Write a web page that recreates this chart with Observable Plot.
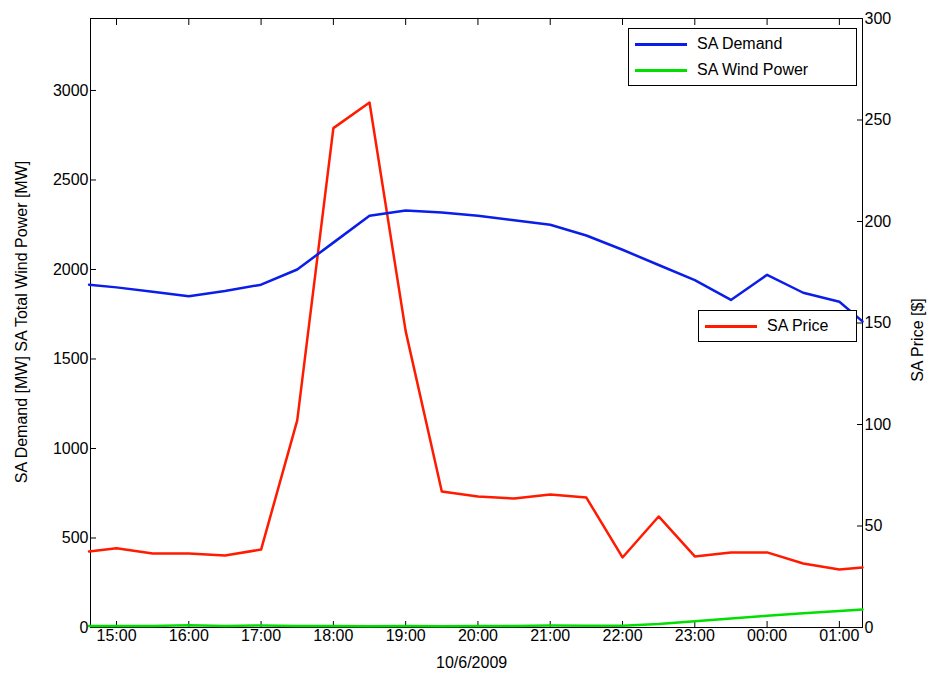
<!DOCTYPE html>
<html><head><meta charset="utf-8">
<script src="https://cdn.jsdelivr.net/npm/d3@7"></script>
<script src="https://cdn.jsdelivr.net/npm/@observablehq/plot@0.6"></script>
<style>
body{margin:0;background:#fff;font-family:"Liberation Sans",Arial,sans-serif;}
#wrap{position:relative;width:930px;height:679px;}
.row{display:flex;align-items:center;height:26px;padding-left:6px;}
.sw{width:52px;height:3px;margin-right:10px;}
</style></head><body>
<div id="wrap"></div>
<script>
const hours = [14.62,15,15.5,16,16.5,17,17.5,18,18.5,19,19.5,20,20.5,21,21.5,22,22.5,23,23.5,24,24.5,25,25.32];
const demand = [1915,1900,1875,1850,1880,1915,2000,2150,2300,2330,2318,2300,2275,2250,2190,2110,2025,1940,1830,1970,1870,1820,1710];
const wind = [8,8,9,12,9,11,9,8,7,8,7,8,9,11,10,10,20,35,50,65,80,92,100];
const price = [37.4,39,36.5,36.5,35.5,38.4,102,246,258.6,146,67,64.5,63.5,65.5,64,34.5,54.7,35,37,37,31.5,28.6,29.6];
const xTicks = [15,16,17,18,19,20,21,22,23,24,25];
const yTicks = [0,500,1000,1500,2000,2500,3000];
const priceTicks = [0,50,100,150,200,250,300];
const yMax = 3402, k = yMax/300;
const d = hours.map((h,i)=>({h,demand:demand[i],wind:wind[i],price:price[i]*k}));
const fmt = h => String(Math.round(h)%24).padStart(2,"0")+":00";
const plot = Plot.plot({
  width:930,height:679,marginLeft:90,marginRight:68,marginTop:18,marginBottom:52,
  style:{fontFamily:"Liberation Sans, Arial, sans-serif",fontSize:"16px",color:"#000"},
  x:{domain:[14.64,25.32]},
  y:{domain:[0,yMax]},
  marks:[
    Plot.frame({stroke:"#000"}),
    Plot.axisX({ticks:xTicks,tickFormat:fmt,tickSize:-6,label:null,tickPadding:8}),
    Plot.axisX({anchor:"top",ticks:xTicks,tickSize:-6,tickFormat:()=>"",label:null}),
    Plot.axisY({ticks:yTicks,tickFormat:v=>String(v),tickSize:-6,tickPadding:8,label:null}),
    Plot.axisY({anchor:"right",ticks:priceTicks.map(v=>v*k),tickFormat:v=>String(Math.round(v/k)),tickSize:-6,tickPadding:8,label:null}),
    Plot.line(d,{x:"h",y:"wind",stroke:"#00e000",strokeWidth:2.5}),
    Plot.line(d,{x:"h",y:"price",stroke:"#ff1a00",strokeWidth:2.5}),
    Plot.line(d,{x:"h",y:"demand",stroke:"#0a1ee8",strokeWidth:2.5})
  ]
});
const wrap=document.getElementById("wrap");
wrap.appendChild(plot);
const add=(html,style)=>{const e=document.createElement("div");e.innerHTML=html;e.style.cssText="position:absolute;font-size:16px;"+style;wrap.appendChild(e);return e;};
add("10/6/2009","left:436px;top:654px;");
add("SA Demand [MW] SA Total Wind Power [MW]","left:22px;top:322px;transform:translate(-50%,-50%) rotate(-90deg);white-space:nowrap;");
add("SA Price [$]","left:918px;top:340px;transform:translate(-50%,-50%) rotate(-90deg);white-space:nowrap;");
add('<div class="row"><div class="sw" style="background:#0a1ee8"></div>SA Demand</div><div class="row"><div class="sw" style="background:#00e000"></div>SA Wind Power</div>',"left:628px;top:28px;width:227px;background:#fff;border:1px solid #000;padding:2px 0;");
add('<div class="row"><div class="sw" style="background:#ff1a00"></div>SA Price</div>',"left:698px;top:310px;width:157px;background:#fff;border:1px solid #000;padding:2px 0;");
</script>
</body></html>
